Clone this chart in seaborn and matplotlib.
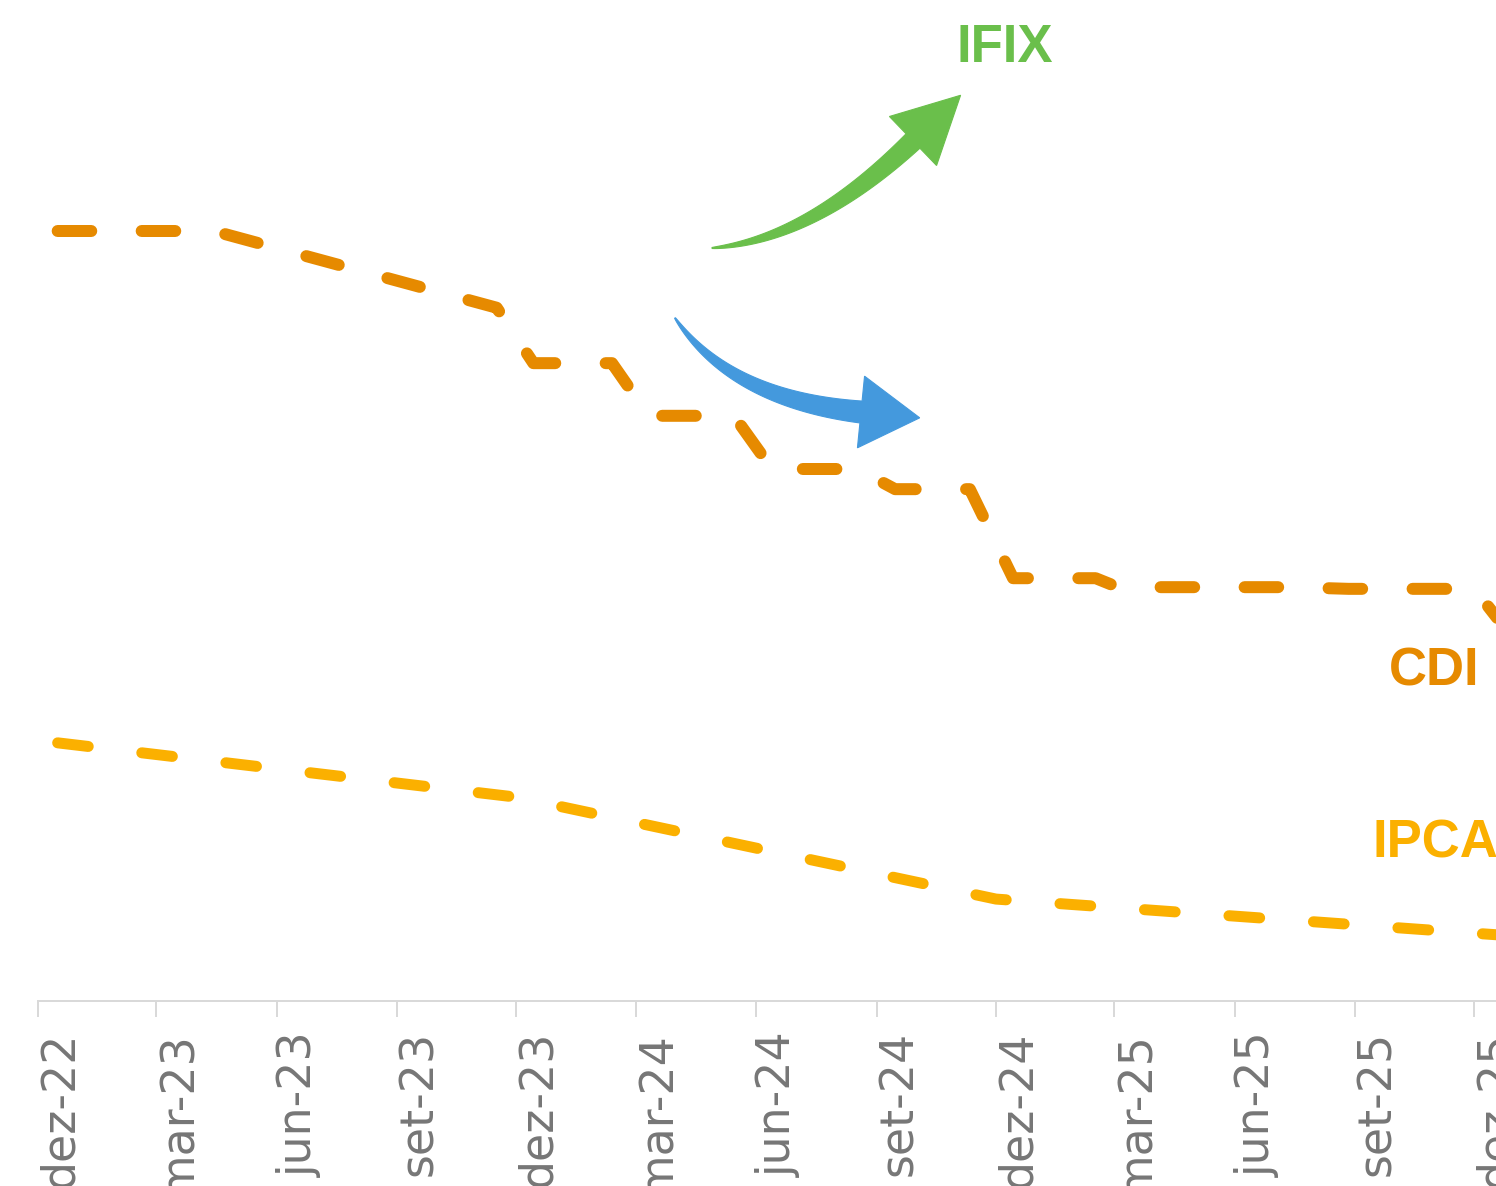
import numpy as np
import pandas as pd
import matplotlib
matplotlib.use('Agg')
import matplotlib.pyplot as plt
from matplotlib.patches import Polygon
import seaborn as sns

# CDI path (%)
cdi_dates = ['2022-12-16', '2023-04-14', '2023-11-16', '2023-12-14', '2024-02-12',
             '2024-03-11', '2024-05-15', '2024-06-13', '2024-08-15', '2024-09-03',
             '2024-09-15', '2024-11-11', '2024-12-14', '2025-02-15', '2025-03-04',
             '2025-07-16', '2025-08-27', '2025-12-01', '2026-01-01']
cdi_values = [13.75, 13.75, 12.38, 11.39, 11.39,
              10.45, 10.45, 9.50, 9.50, 9.29,
              9.14, 9.14, 7.55, 7.55, 7.39,
              7.39, 7.36, 7.36, 6.43]

# IPCA path (%)
ipca_dates = ['2022-12-16', '2023-12-01', '2024-12-01', '2025-12-01', '2026-01-01']
ipca_values = [4.61, 3.64, 1.82, 1.21, 1.16]

tick_dates = ['2022-12-01', '2023-03-01', '2023-06-01', '2023-09-01', '2023-12-01',
              '2024-03-01', '2024-06-01', '2024-09-01', '2024-12-01', '2025-03-01',
              '2025-06-01', '2025-09-01', '2025-12-01']
tick_labels = ['dez-22', 'mar-23', 'jun-23', 'set-23', 'dez-23', 'mar-24', 'jun-24',
               'set-24', 'dez-24', 'mar-25', 'jun-25', 'set-25', 'dez-25']

W, H = 1496, 1186
PX = 72 / 100  # points per pixel at dpi 100

cdi = pd.DataFrame({'data': pd.to_datetime(cdi_dates), 'taxa': cdi_values})
ipca = pd.DataFrame({'data': pd.to_datetime(ipca_dates), 'taxa': ipca_values})

sns.set_style('white')
fig = plt.figure(figsize=(W / 100, H / 100), dpi=100)
ax = fig.add_axes([38 / W, 185 / H, (1515 - 38) / W, 1001 / H])

sns.lineplot(data=cdi, x='data', y='taxa', ax=ax, color='#E68A00',
             linewidth=12 * PX, linestyle=(0, (2.8, 4.2)),
             dash_capstyle='round', zorder=3)
sns.lineplot(data=ipca, x='data', y='taxa', ax=ax, color='#FBB000',
             linewidth=11 * PX, linestyle=(0, (2.8, 4.9)),
             dash_capstyle='round', zorder=3)

ax.set_xlim(pd.Timestamp('2022-12-01'), pd.Timestamp('2026-01-01'))
ax.set_ylim(0, 1001 / 56)
ax.set_xlabel('')
ax.set_ylabel('')
ax.set_yticks([])
for side in ['left', 'top', 'right']:
    ax.spines[side].set_visible(False)
ax.spines['bottom'].set_color('#D9D9D9')
ax.spines['bottom'].set_linewidth(2 * PX)

ax.set_xticks(pd.to_datetime(tick_dates))
ax.set_xticklabels(tick_labels, rotation=90, ha='left', va='top',
                   fontsize=33, color='#767676', family='DejaVu Sans')
ax.tick_params(axis='x', bottom=True, direction='out', length=16 * PX,
               width=2 * PX, color='#D9D9D9', pad=14 * PX)


def fpos(x, y):
    return x / W, 1 - y / H


def curved_arrow(p0, p1, p2, w0, w1, head_w, head_len, color):
    p0, p1, p2 = map(np.asarray, (p0, p1, p2))
    t = np.linspace(0, 1, 80)[:, None]
    pts = (1 - t) ** 2 * p0 + 2 * (1 - t) * t * p1 + t ** 2 * p2
    d = 2 * (1 - t) * (p1 - p0) + 2 * t * (p2 - p1)
    d = d / np.linalg.norm(d, axis=1, keepdims=True)
    n = np.column_stack([-d[:, 1], d[:, 0]])
    w = (w0 + (w1 - w0) * t[:, 0] ** 0.8)[:, None]
    left = pts + n * w / 2
    right = pts - n * w / 2
    tip = p2 + d[-1] * head_len
    bl = p2 + n[-1] * head_w / 2
    br = p2 - n[-1] * head_w / 2
    poly = np.vstack([left, bl, tip, br, right[::-1]])
    poly = np.array([fpos(x, y) for x, y in poly])
    fig.patches.append(Polygon(poly, closed=True, transform=fig.transFigure,
                               facecolor=color, edgecolor=color, linewidth=0.8,
                               zorder=5))


curved_arrow((712, 248), (810, 240), (913, 141), 1, 20, 68, 66, '#6ABF4B')
curved_arrow((675, 318), (730, 399), (861, 412), 1, 22, 72, 59, '#4499DD')

lbl = dict(fontsize=38, fontweight='bold', family=['Liberation Sans', 'DejaVu Sans'],
           va='baseline')
fig.text(*fpos(1005, 62), 'IFIX', color='#6ABF4B', ha='center', **lbl)
fig.text(*fpos(1434, 685), 'CDI', color='#E68A00', ha='center', **lbl)
fig.text(*fpos(1372, 857), 'IPCA', color='#FBB000', ha='left', **lbl)

fig.savefig('out.png', dpi=100)
